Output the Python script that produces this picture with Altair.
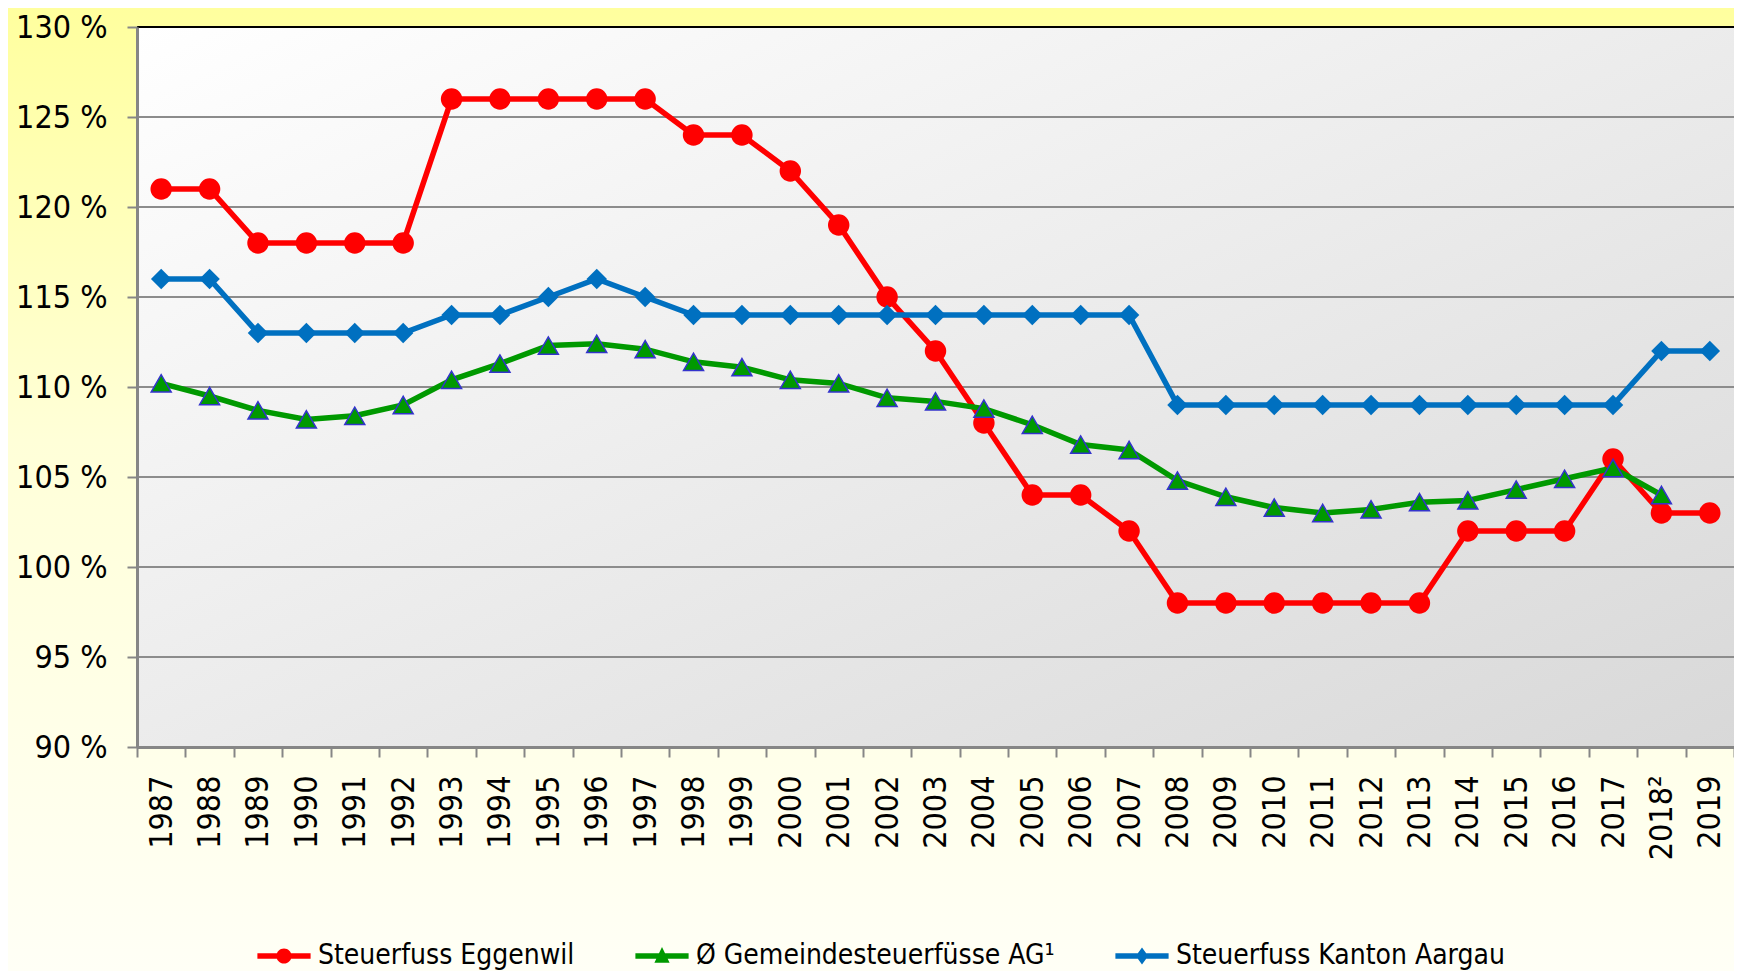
import altair as alt
import pandas as pd

# ---- data ----
years = ["1987", "1988", "1989", "1990", "1991", "1992", "1993", "1994", "1995", "1996",
         "1997", "1998", "1999", "2000", "2001", "2002", "2003", "2004", "2005", "2006",
         "2007", "2008", "2009", "2010", "2011", "2012", "2013", "2014", "2015", "2016",
         "2017", "2018²", "2019"]
eggenwil = [121, 121, 118, 118, 118, 118, 126, 126, 126, 126,
            126, 124, 124, 122, 119, 115, 112, 108, 104, 104,
            102, 98, 98, 98, 98, 98, 98, 102, 102, 102,
            106, 103, 103]
gemeinde = [110.2, 109.5, 108.7, 108.2, 108.4, 109.0, 110.4, 111.3, 112.3, 112.4,
            112.1, 111.4, 111.1, 110.4, 110.2, 109.4, 109.2, 108.8, 107.9, 106.8,
            106.5, 104.8, 103.9, 103.3, 103.0, 103.2, 103.6, 103.7, 104.3, 104.9,
            105.5, 104.0]
kanton = [116, 116, 113, 113, 113, 113, 114, 114, 115, 116,
          115, 114, 114, 114, 114, 114, 114, 114, 114, 114,
          114, 109, 109, 109, 109, 109, 109, 109, 109, 109,
          109, 112, 112]
series_names = ["Steuerfuss Eggenwil", "Ø Gemeindesteuerfüsse AG¹", "Steuerfuss Kanton Aargau"]
series_colors = ["#FF0000", "#009900", "#0070C0"]
y_ticks = [90, 95, 100, 105, 110, 115, 120, 125, 130]

FONT = "DejaVu Sans Condensed, DejaVu Sans"
W, H = 1597, 720
PAD_L, PAD_T, PAD_B = 129, 19, 224

rows = []
for name, vals in zip(series_names, [eggenwil, gemeinde, kanton]):
    for y, v in zip(years, vals):
        rows.append({"year": y, "value": v, "series": name})
df = pd.DataFrame(rows)

x_enc = alt.X("year:N", sort=years,
              scale=alt.Scale(domain=years, paddingInner=0, paddingOuter=0),
              axis=alt.Axis(title=None, labelAngle=270, labelAlign="right", labelBaseline="middle",
                            labelFont=FONT, labelFontSize=32, labelColor="black", labelPadding=18,
                            tickBand="extent", tickSize=10, tickWidth=2, tickColor="#868686",
                            domainColor="#868686", domainWidth=3, grid=False, zindex=1))
y_enc = alt.Y("value:Q", scale=alt.Scale(domain=[90, 130], nice=False, zero=False),
              axis=alt.Axis(title=None, values=y_ticks, labelExpr="datum.value + ' %'",
                            labelFont=FONT, labelFontSize=32, labelColor="black", labelPadding=20,
                            tickSize=10, tickWidth=2, tickColor="#868686",
                            domainColor="#868686", domainWidth=3, grid=False, zindex=1))
color_scale = alt.Scale(domain=series_names, range=series_colors)

one = pd.DataFrame({"k": [0]})

outer_bg = alt.Chart(one).mark_rect(
    fill=alt.LinearGradient(gradient="linear", x1=0, y1=0, x2=0, y2=1,
                            stops=[alt.GradientStop(color="#FFFF9E", offset=0),
                                   alt.GradientStop(color="#FFFFD8", offset=0.45),
                                   alt.GradientStop(color="#FFFFF6", offset=1)])
).encode(x=alt.value(-PAD_L), x2=alt.value(W + 10), y=alt.value(-PAD_T), y2=alt.value(H + PAD_B))

plot_bg = alt.Chart(one).mark_rect(
    fill=alt.LinearGradient(gradient="linear", x1=0, y1=0, x2=1, y2=1,
                            stops=[alt.GradientStop(color="#FFFFFF", offset=0),
                                   alt.GradientStop(color="#D8D8D8", offset=1)])
).encode(x=alt.value(0), x2=alt.value(W + 10), y=alt.value(0), y2=alt.value(H))

grid = alt.Chart(pd.DataFrame({"v": y_ticks})).mark_rule(strokeWidth=2).encode(
    y=alt.Y("v:Q", scale=alt.Scale(domain=[90, 130], nice=False, zero=False)),
    color=alt.condition("datum.v == 130", alt.value("#000000"), alt.value("#8C8C8C")),
)

point_specs = [
    (series_names[0], series_colors[0], "circle", 460, "#FF0000", 0),
    (series_names[1], series_colors[1], "triangle-up", 400, "#3333CC", 1.5),
    (series_names[2], series_colors[2], "diamond", 420, "#0070C0", 0),
]
line_layers, point_layers = [], []
for name, col, shp, sz, stk, sw in point_specs:
    base = alt.Chart(df).transform_filter(alt.datum.series == name)
    line_layers.append(base.mark_line(strokeWidth=5.5, color=col).encode(x=x_enc, y=y_enc))
    point_layers.append(
        base.mark_point(filled=True, shape=shp, size=sz, fill=col, stroke=stk,
                        strokeWidth=sw, opacity=1).encode(x=x_enc, y=y_enc)
    )

# legend-only layer: its marks sit off-canvas, it exists to build the legend
legend_paths = [
    "M-2.8,-0.28 L2.8,-0.28 L2.8,0.28 L-2.8,0.28 Z M-0.8,0 A0.8,0.8 0 1,1 0.8,0 A0.8,0.8 0 1,1 -0.8,0 Z",
    "M-2.8,-0.28 L2.8,-0.28 L2.8,0.28 L-2.8,0.28 Z M0,-0.95 L0.8,0.7 L-0.8,0.7 Z",
    "M-2.8,-0.28 L2.8,-0.28 L2.8,0.28 L-2.8,0.28 Z M0,-0.9 L0.65,0 L0,0.9 L-0.65,0 Z",
]
legend_layer = alt.Chart(pd.DataFrame({"series": series_names})).mark_point(filled=True, opacity=1).encode(
    x=alt.value(-3000), y=alt.value(-3000),
    color=alt.Color("series:N", scale=color_scale,
                    legend=alt.Legend(title=None, orient="none", legendX=133, legendY=915,
                                      direction="horizontal", labelFont=FONT, labelFontSize=28,
                                      labelColor="black", symbolSize=361, symbolOpacity=1,
                                      symbolStrokeWidth=0, labelOffset=20, columnPadding=60,
                                      padding=0, labelLimit=600)),
    shape=alt.Shape("series:N", scale=alt.Scale(domain=series_names, range=legend_paths)),
)

chart = alt.layer(outer_bg, plot_bg, grid, *line_layers, *point_layers, legend_layer).properties(
    width=W, height=H,
    autosize=alt.AutoSizeParams(type="none"),
    padding={"left": PAD_L, "top": PAD_T, "right": 0, "bottom": PAD_B},
    background="#FFFFF6",
).configure_view(stroke=None)

chart.save("out.html", embed_options={"renderer": "svg", "actions": False})
